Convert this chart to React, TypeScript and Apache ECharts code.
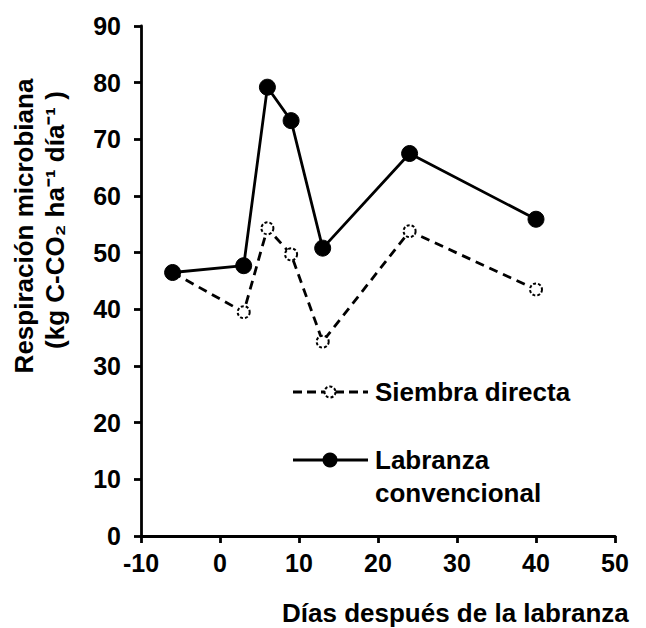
import React, { useEffect, useRef } from "react";
import * as echarts from "echarts";

const days = [-6, 3, 6, 9, 13, 24, 40];
const siembraDirecta = [46.5, 39.5, 54.3, 49.7, 34.3, 53.8, 43.5];
const labranzaConvencional = [46.5, 47.7, 79.2, 73.3, 50.8, 67.5, 55.9];
const xTicks = [-10, 0, 10, 20, 30, 40, 50];
const yTicks = [0, 10, 20, 30, 40, 50, 60, 70, 80, 90];

const FONT = "'Liberation Sans', Arial, sans-serif";

export default function App() {
  const ref = useRef<HTMLDivElement>(null);
  useEffect(() => {
    if (!ref.current) return;
    const chart = echarts.init(ref.current, null, { renderer: "svg" });
    const pair = (ys: number[]) => days.map((d, i) => [d, ys[i]]);
    const txt = (text: string, x: number, y: number, size: number, rotation = 0) => ({
      type: "text",
      x,
      y,
      rotation,
      style: { text, fill: "#000", font: `bold ${size}px ${FONT}`, align: rotation ? "center" : "left", verticalAlign: "middle" },
    });
    chart.setOption({
      animation: false,
      backgroundColor: "#fff",
      grid: { left: 133, right: 31, top: 18, bottom: 92, containLabel: false },
      xAxis: {
        type: "value",
        min: xTicks[0],
        max: xTicks[xTicks.length - 1],
        interval: 10,
        splitLine: { show: false },
        axisLine: { onZero: false, lineStyle: { color: "#000", width: 2.8 } },
        axisTick: { show: true, length: 7, lineStyle: { color: "#000", width: 2.8 } },
        axisLabel: { color: "#000", fontFamily: FONT, fontWeight: "bold", fontSize: 25, margin: 14 },
      },
      yAxis: {
        type: "value",
        min: yTicks[0],
        max: yTicks[yTicks.length - 1],
        interval: 10,
        splitLine: { show: false },
        axisLine: { show: true, onZero: false, lineStyle: { color: "#000", width: 2.8 } },
        axisTick: { show: true, length: 7, lineStyle: { color: "#000", width: 2.8 } },
        axisLabel: { color: "#000", fontFamily: FONT, fontWeight: "bold", fontSize: 25, margin: 20 },
      },
      series: [
        {
          name: "Siembra directa",
          type: "line",
          data: pair(siembraDirecta),
          symbol: "circle",
          symbolSize: 12,
          lineStyle: { color: "#000", width: 2.8, type: [9, 6] },
          itemStyle: { color: "#fff", borderColor: "#000", borderWidth: 2, borderType: [3, 2] },
          z: 2,
        },
        {
          name: "Labranza convencional",
          type: "line",
          data: pair(labranzaConvencional),
          symbol: "circle",
          symbolSize: 16,
          lineStyle: { color: "#000", width: 2.8 },
          itemStyle: { color: "#000", borderColor: "#000" },
          z: 3,
        },
      ],
      graphic: [
        txt("Respiración microbiana", 16, 218, 26, Math.PI / 2),
        txt("(kg C-CO\u2082 ha\u207B\u00B9 día\u207B\u00B9 )", 47, 212, 26, Math.PI / 2),
        { type: "line", shape: { x1: 285, y1: 384, x2: 360, y2: 384 }, style: { stroke: "#000", lineWidth: 2.8, lineDash: [9, 5] } },
        { type: "circle", shape: { cx: 322, cy: 384, r: 5.5 }, style: { fill: "#fff", stroke: "#000", lineWidth: 2, lineDash: [3, 2] } },
        txt("Siembra directa", 367, 384, 26),
        { type: "line", shape: { x1: 285, y1: 452, x2: 360, y2: 452 }, style: { stroke: "#000", lineWidth: 2.8 } },
        { type: "circle", shape: { cx: 322, cy: 452, r: 7.5 }, style: { fill: "#000" } },
        txt("Labranza", 367, 452, 26),
        txt("convencional", 367, 485, 26),
        txt("Días después de la labranza", 274, 605, 26),
      ],
    });
    return () => chart.dispose();
  }, []);
  return <div ref={ref} style={{ width: 638, height: 620 }} />;
}
